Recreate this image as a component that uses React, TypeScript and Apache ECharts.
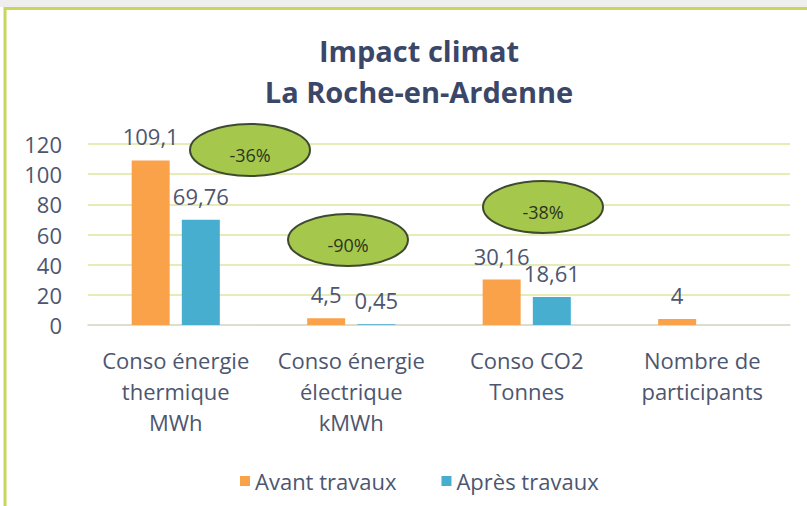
import React, { useEffect, useRef } from "react";
import * as echarts from "echarts";

const categories = [
  "Conso énergie\nthermique\nMWh",
  "Conso énergie\nélectrique\nkMWh",
  "Conso CO2\nTonnes",
  "Nombre de\nparticipants",
];
const avantTravaux = [109.1, 4.5, 30.16, 4];
const apresTravaux: (number | null)[] = [69.76, 0.45, 18.61, null];
const yTicks = { min: 0, max: 120, interval: 20 };
const bubbleLabels = ["-36%", "-90%", "-38%"];
const bubbleCenters = [
  [250, 150],
  [348, 240],
  [543, 207],
];

const FONT = "'Open Sans', Lato, sans-serif";
const TEXT = "#4d566f";

export default function App() {
  const ref = useRef<HTMLDivElement>(null);
  useEffect(() => {
    document.body.style.margin = "0";
    const chart = echarts.init(ref.current!, null, { renderer: "svg" });
    const fmt = (p: any) =>
      p.value == null ? "" : String(p.value).replace(".", ",");
    const bubbles = bubbleLabels.map((t, i) => ({
      type: "group",
      children: [
        {
          type: "ellipse",
          shape: { cx: bubbleCenters[i][0], cy: bubbleCenters[i][1], rx: 60, ry: 26 },
          style: { fill: "#a5c84c", stroke: "#3e4a30", lineWidth: 2 },
          z: 10,
        },
        {
          type: "text",
          x: bubbleCenters[i][0],
          y: bubbleCenters[i][1] + 5,
          style: {
            text: t,
            fill: "#2c3520",
            font: `18px ${FONT}`,
            align: "center",
            verticalAlign: "middle",
          },
          z: 11,
        },
      ],
    }));
    chart.setOption({
      animation: false,
      backgroundColor: "#ffffff",
      textStyle: { fontFamily: FONT },
      title: {
        text: "Impact climat\nLa Roche-en-Ardenne",
        left: 414,
        textAlign: "center",
        top: 25,
        textStyle: {
          fontFamily: FONT,
          fontSize: 29,
          fontWeight: "bold",
          color: "#3b4768",
          lineHeight: 41,
        },
      },
      grid: { left: 88, right: 17, top: 144, bottom: 181 },
      legend: {
        left: 235,
        top: 465,
        itemWidth: 10,
        itemHeight: 10,
        itemGap: 45,
        icon: "rect",
        textStyle: { fontSize: 22, color: TEXT, fontFamily: FONT },
        data: ["Avant travaux", "Après travaux"],
      },
      xAxis: {
        type: "category",
        data: categories,
        axisLine: { lineStyle: { color: "#d9d9d9", width: 1.5 } },
        axisTick: { show: false },
        axisLabel: {
          color: TEXT,
          fontSize: 22,
          lineHeight: 31,
          margin: 19,
          interval: 0,
          fontFamily: FONT,
        },
      },
      yAxis: {
        type: "value",
        min: yTicks.min,
        max: yTicks.max,
        interval: yTicks.interval,
        axisLabel: { color: TEXT, fontSize: 22, margin: 26, fontFamily: FONT },
        splitLine: { lineStyle: { color: "#dde69c", width: 1.5 } },
        axisLine: { show: false },
        axisTick: { show: false },
      },
      series: [
        {
          name: "Avant travaux",
          type: "bar",
          data: avantTravaux,
          barWidth: 38,
          barGap: "32%",
          itemStyle: { color: "#f9a24a" },
          label: {
            show: true,
            position: "top",
            distance: 13,
            formatter: fmt,
            color: TEXT,
            fontSize: 22,
            fontFamily: FONT,
          },
        },
        {
          name: "Après travaux",
          type: "bar",
          data: apresTravaux,
          barWidth: 38,
          itemStyle: { color: "#48aed0" },
          label: {
            show: true,
            position: "top",
            distance: 13,
            formatter: fmt,
            color: TEXT,
            fontSize: 22,
            fontFamily: FONT,
          },
        },
      ],
      graphic: [
        { type: "rect", shape: { x: 0, y: 0, width: 807, height: 7 }, style: { fill: "#eeeeee" } },
        { type: "line", shape: { x1: 4, y1: 8.5, x2: 807, y2: 8.5 }, style: { stroke: "#c8d75a", lineWidth: 3 } },
        { type: "line", shape: { x1: 5, y1: 7, x2: 5, y2: 506 }, style: { stroke: "#c8d75a", lineWidth: 3 } },
        ...bubbles,
      ],
    });
    return () => chart.dispose();
  }, []);
  return (
    <div
      ref={ref}
      style={{ position: "fixed", left: 0, top: 0, width: 807, height: 506 }}
    />
  );
}
